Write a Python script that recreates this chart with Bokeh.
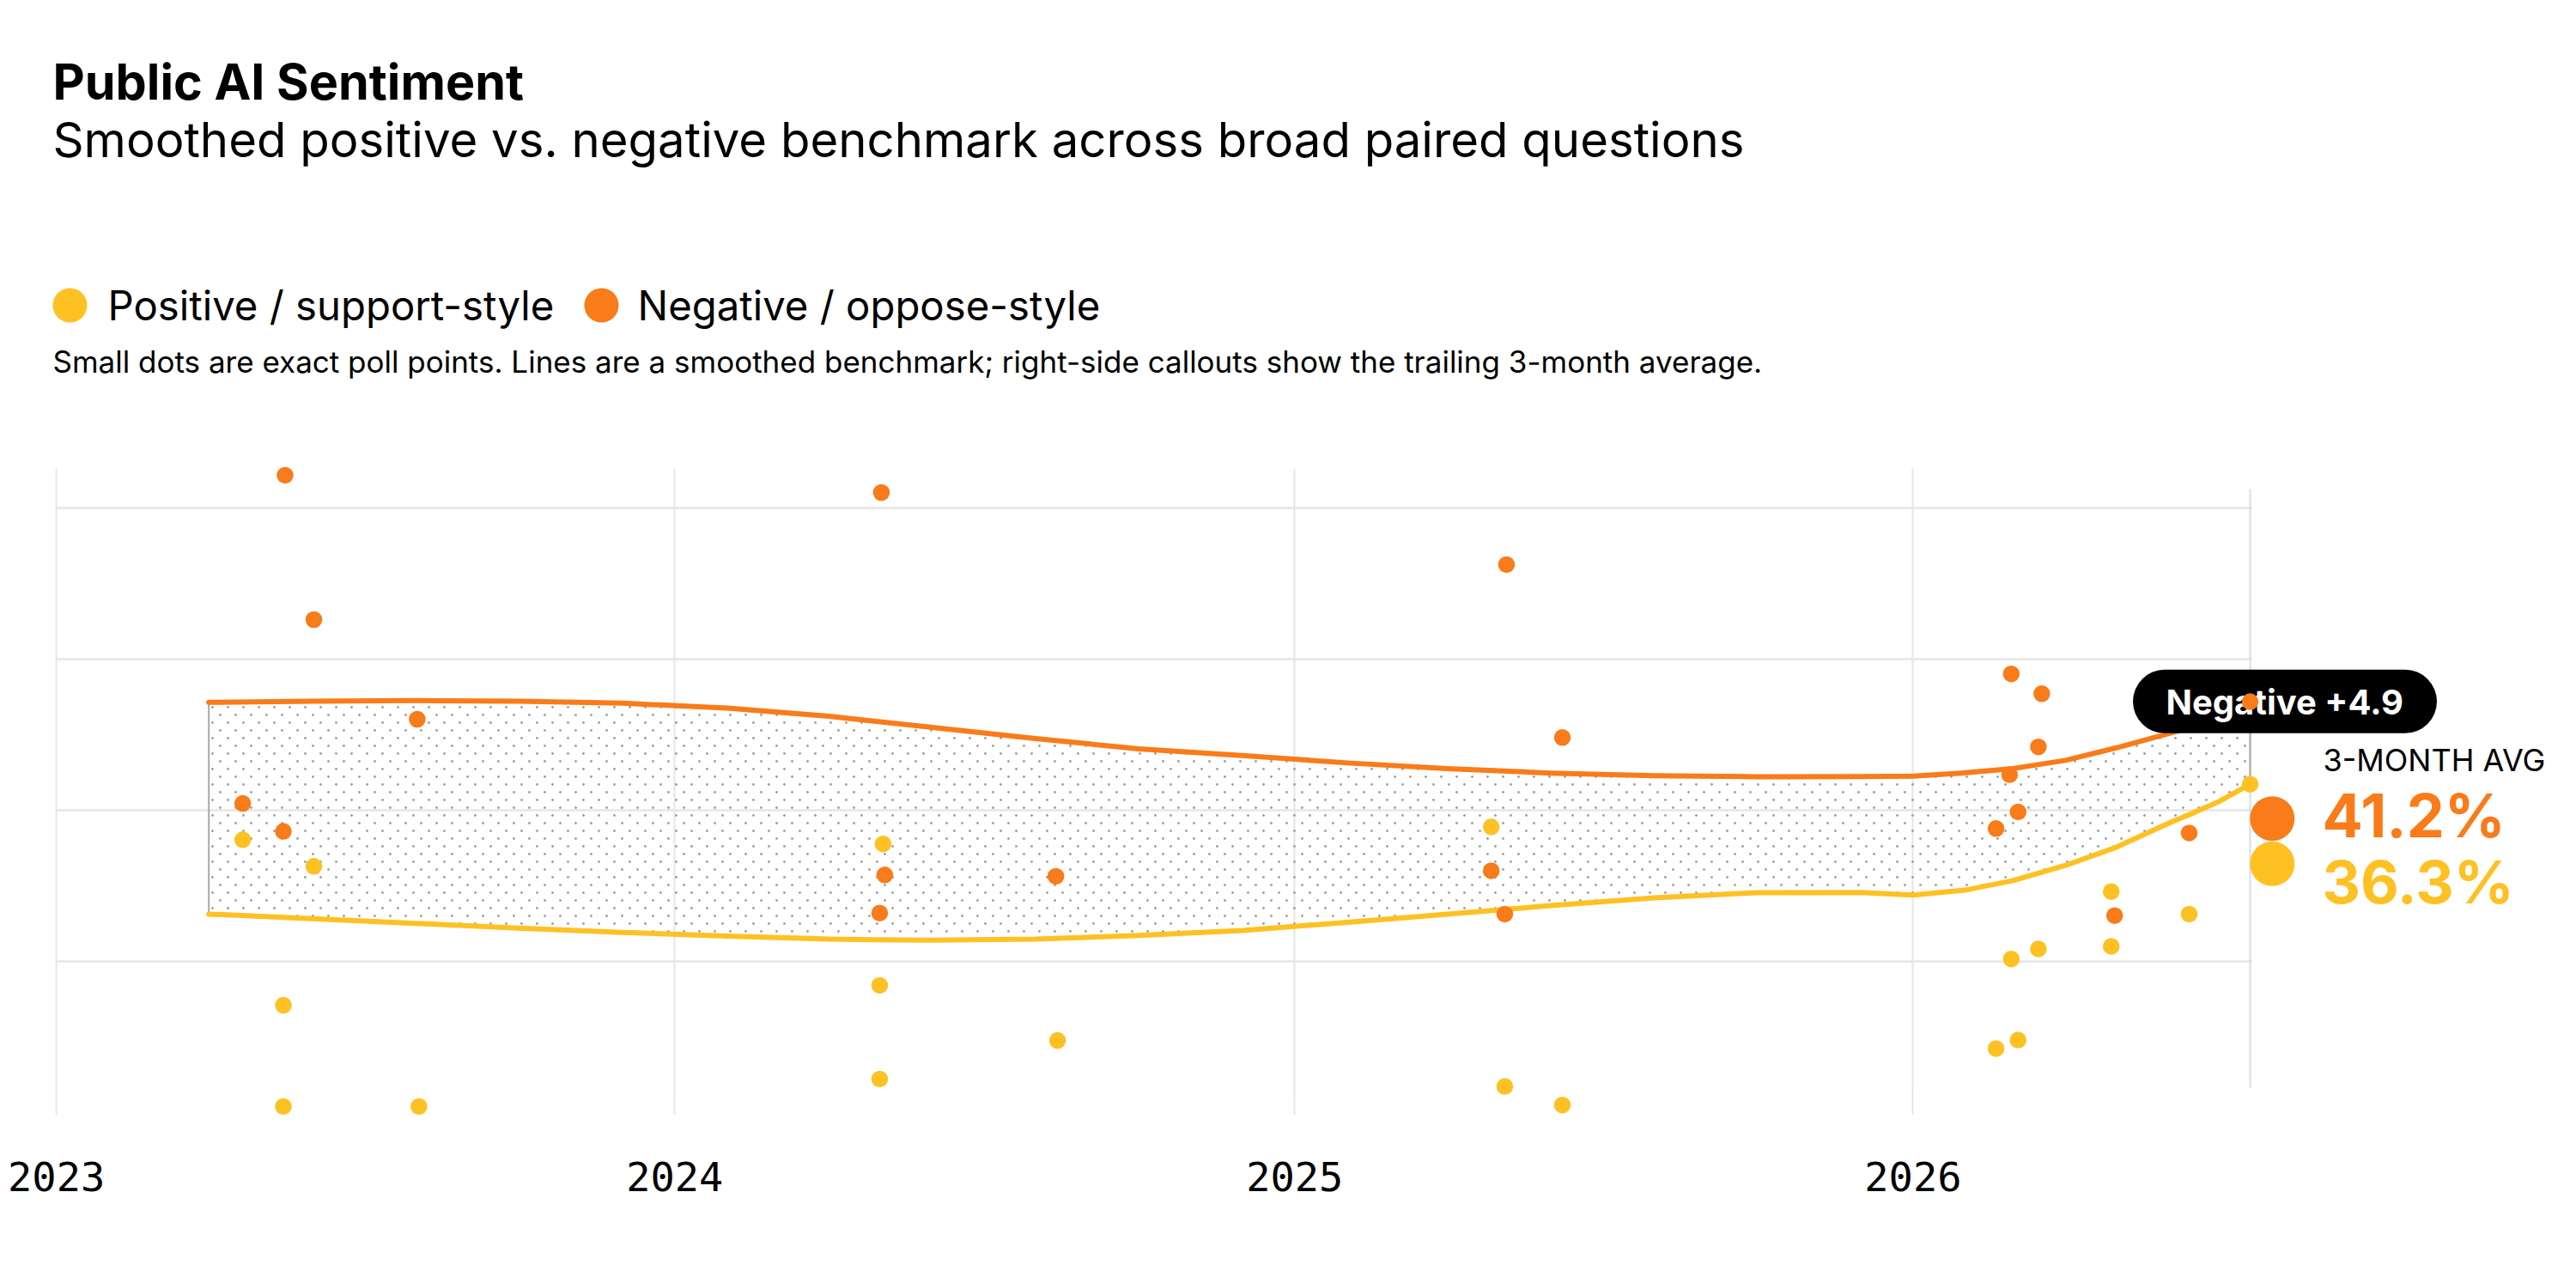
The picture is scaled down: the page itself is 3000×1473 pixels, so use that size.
import base64
import pandas as pd
from bokeh.plotting import figure
from bokeh.models import (Range1d, FixedTicker, DatetimeTickFormatter, Label, BoxAnnotation,
                          ImageURLTexture)
from bokeh.embed import file_html
from bokeh.resources import INLINE

# ---------------- data ----------------
neg_dates = ["2023-04-21", "2023-05-15", "2023-05-16", "2023-06-02", "2023-08-02",
             "2024-05-01", "2024-05-02", "2024-05-04", "2024-08-13",
             "2025-04-27", "2025-05-05", "2025-05-06", "2025-06-08",
             "2026-02-19", "2026-02-27", "2026-02-28", "2026-03-04", "2026-03-16",
             "2026-03-18", "2026-04-30", "2026-06-13", "2026-07-19"]
neg_values = [40.45, 38.6, 62.16, 52.61, 46.02,
              33.2, 61.02, 35.72, 35.63,
              36.0, 33.13, 56.25, 44.81,
              38.79, 42.35, 49.02, 39.89, 44.19,
              47.71, 33.03, 38.5, 47.18]

pos_dates = ["2023-04-21", "2023-05-15", "2023-05-15", "2023-06-02", "2023-08-03",
             "2024-05-01", "2024-05-01", "2024-05-03", "2024-08-14",
             "2025-04-27", "2025-05-05", "2025-06-08",
             "2026-02-19", "2026-02-28", "2026-03-04", "2026-03-16",
             "2026-04-28", "2026-04-28", "2026-06-13", "2026-07-19"]
pos_values = [38.05, 27.1, 20.4, 36.29, 20.4,
              28.41, 22.22, 37.77, 24.77,
              38.9, 21.73, 20.5,
              24.24, 30.16, 24.8, 30.83,
              34.62, 31.0, 33.13, 41.72]

line_dates = ["2023-04-01", "2023-06-01", "2023-08-01", "2023-10-01", "2023-12-01",
              "2024-02-01", "2024-04-01", "2024-06-01", "2024-08-01", "2024-10-01",
              "2024-12-01", "2025-02-01", "2025-04-01", "2025-06-01", "2025-08-01",
              "2025-10-01", "2025-12-01", "2026-01-01", "2026-02-01", "2026-03-01",
              "2026-04-01", "2026-05-01", "2026-06-01", "2026-06-16", "2026-07-01",
              "2026-07-19"]
neg_line = [47.14, 47.22, 47.25, 47.22, 47.08,
            46.76, 46.22, 45.48, 44.74, 44.06,
            43.62, 43.13, 42.76, 42.46, 42.28,
            42.22, 42.23, 42.26, 42.48, 42.76,
            43.30, 44.13, 45.08, 45.55, 46.00,
            46.62]
pos_line = [33.13, 32.83, 32.52, 32.20, 31.92,
            31.67, 31.47, 31.40, 31.47, 31.72,
            32.05, 32.58, 33.13, 33.69, 34.20,
            34.55, 34.56, 34.39, 34.72, 35.35,
            36.35, 37.55, 39.15, 39.85, 40.60,
            41.72]

year_ticks = ["2023-01-01", "2024-01-01", "2025-01-01", "2026-01-01"]
grid_values = [30, 40, 50, 60]
avg_labels = ["41.2%", "36.3%"]
gap_label = "Negative +4.9"
series_names = ["Positive / support-style", "Negative / oppose-style"]

ORANGE = "#F97B19"
YELLOW = "#FEC124"
GRID = "#e6e6e6"
FONT = "Inter"


def ms(s):
    return pd.Timestamp(s).value / 1e6


# chart-area geometry (page pixels) and its data extent
FL, FR, FT, FB = 65, 2621, 545, 1298
X0, X1 = ms("2022-12-31 22:00"), ms("2026-07-19 12:00")
Y0, Y1 = 19.83, 62.61
W = 2984


def gx(px):
    return X0 + (px - FL) / (FR - FL) * (X1 - X0)


def gy(py):
    return Y0 + (FB - py) / (FB - FT) * (Y1 - Y0)


# the frame covers the whole page width and everything above the axis
p = figure(x_axis_type="datetime", y_axis_location=None,
           frame_width=W, frame_height=FB,
           min_border_left=0, min_border_right=0, min_border_top=0, min_border_bottom=159,
           x_range=Range1d(gx(0), gx(W)), y_range=Range1d(Y0, gy(0)),
           output_backend="svg", toolbar_location=None)
p.outline_line_color = None
p.background_fill_color = "white"
p.border_fill_color = "white"

year_ms = [ms(d) for d in year_ticks]
p.xaxis.ticker = FixedTicker(ticks=year_ms)
p.xaxis.formatter = DatetimeTickFormatter(years="%Y", months="%Y", days="%Y",
                                          hours="%Y", minutes="%Y", seconds="%Y")
p.xaxis.axis_line_color = None
p.xaxis.major_tick_line_color = None
p.xaxis.minor_tick_line_color = None
p.xaxis.major_label_text_font = "DejaVu Sans Mono"
p.xaxis.major_label_text_font_size = "47px"
p.xaxis.major_label_text_color = "black"
p.xaxis.major_label_standoff = 48

p.xgrid.ticker = FixedTicker(ticks=year_ms)
p.xgrid.grid_line_color = GRID
p.xgrid.grid_line_width = 2
p.ygrid.ticker = FixedTicker(ticks=grid_values)
p.ygrid.grid_line_color = GRID
p.ygrid.grid_line_width = 2.5


def mask(l, t, r, b):
    p.add_layout(BoxAnnotation(left=gx(l), right=gx(r), top=gy(t), bottom=gy(b), level="underlay",
                               fill_color="white", fill_alpha=1, line_color=None))


# keep the grid inside the chart area
mask(0, 0, W, FT)
mask(0, FT - 1, FL - 1, FB)
mask(FR + 1, FT - 1, W, FB)

ld = pd.to_datetime(line_dates)
last = pd.to_datetime(neg_dates).max()

# latest-date guide
p.segment(x0=[last], y0=[21.65], x1=[last], y1=[61.25], line_color="#dcdcdc", line_width=2)

# band with a staggered fine-dot texture
tile = ('<svg xmlns="http://www.w3.org/2000/svg" width="18" height="18">'
        '<circle cx="4.5" cy="4.5" r="1.45" fill="#9f9f9f"/>'
        '<circle cx="13.5" cy="13.5" r="1.45" fill="#9f9f9f"/></svg>')
tile_url = "data:image/svg+xml;base64," + base64.b64encode(tile.encode()).decode()
band_x = list(ld) + list(ld[::-1])
band_y = neg_line + pos_line[::-1]
p.patch(band_x, band_y, fill_alpha=0, hatch_pattern="stagger",
        hatch_extra={"stagger": ImageURLTexture(url=tile_url, repetition="repeat")},
        line_color="#a8a8a8", line_width=2)

p.line(ld, pos_line, line_color=YELLOW, line_width=6, line_cap="round", line_join="round")
p.line(ld, neg_line, line_color=ORANGE, line_width=6, line_cap="round", line_join="round")


def dot(cx, cy, d, color):
    r = d / 2
    p.add_layout(BoxAnnotation(left=gx(cx - r), right=gx(cx + r), top=gy(cy - r), bottom=gy(cy + r),
                               fill_color=color, fill_alpha=1, line_color=None, border_radius=int(round(r))))


def text(px, baseline, s, size, color="black", bold=False):
    # compensate the renderer's placement of the alphabetic baseline
    py = baseline - 0.32 * size
    p.add_layout(Label(x=gx(px), y=gy(py), text=s, text_font=FONT, text_font_size=f"{size}px",
                       text_color=color, text_font_style="bold" if bold else "normal",
                       text_align="left", text_baseline="alphabetic"))


# pill
p.add_layout(BoxAnnotation(left=gx(2483.5), right=gx(2837.5), top=gy(779.3), bottom=gy(853.3),
                           fill_color="black", fill_alpha=1, line_color=None, border_radius=37))
text(2522, 830, gap_label, 40, "white", True)

# data points on top
p.scatter(pd.to_datetime(pos_dates), pos_values, size=19.5, fill_color=YELLOW, line_color=None, level="overlay")
p.scatter(pd.to_datetime(neg_dates), neg_values, size=19.5, fill_color=ORANGE, line_color=None, level="overlay")

# right-side callouts
text(2705, 896, "3-MONTH AVG", 36)
dot(2645.8, 952.7, 52, ORANGE)
dot(2645.8, 1005.3, 52, YELLOW)
text(2704, 971, avg_labels[0], 70, ORANGE, True)
text(2704, 1048.5, avg_labels[1], 69, YELLOW, True)

# headings and legend
text(61, 113.3, "Public AI Sentiment", 57.5, bold=True)
text(61, 180, "Smoothed positive vs. negative benchmark across broad paired questions", 56.3)
dot(81, 355, 40, YELLOW)
text(125, 370, series_names[0], 47.3)
dot(700, 355, 40, ORANGE)
text(742, 370, series_names[1], 47.3)
text(61, 431.7, "Small dots are exact poll points. Lines are a smoothed benchmark; "
     "right-side callouts show the trailing 3-month average.", 35)

open("out.html", "w").write(file_html(p, INLINE))
